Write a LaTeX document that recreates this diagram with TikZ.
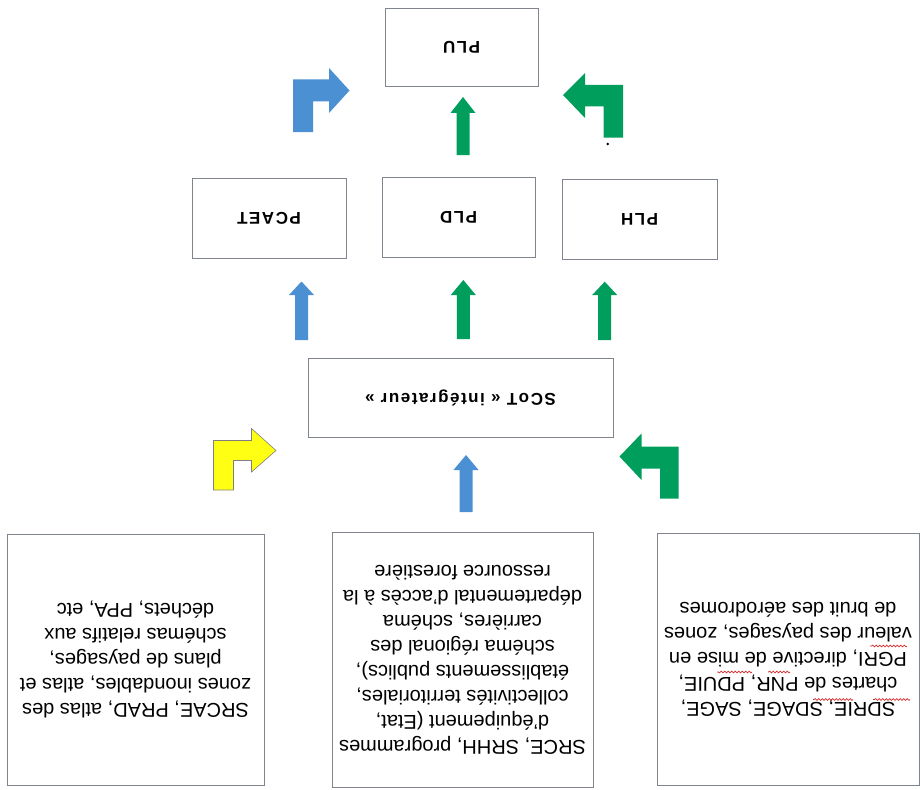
\documentclass[tikz,border=0pt]{standalone}
\usepackage{fontspec}
\setmainfont{Liberation Sans}
\newfontfamily\labelfont{Liberation Sans}[LetterSpace=9]
\usetikzlibrary{decorations.pathmorphing}
\definecolor{frame}{RGB}{128,132,140}
\definecolor{arrblue}{RGB}{74,144,210}
\definecolor{arrgreen}{RGB}{0,158,92}
\definecolor{arryellow}{RGB}{255,255,20}
\definecolor{squigred}{RGB}{215,45,45}
\tikzset{
  box_plan/.style={draw=frame,line width=0.9pt,rotate=180,inner sep=0pt,
    font=\labelfont\bfseries\fontsize{17}{20}\selectfont},
  box_src/.style={draw=frame,line width=0.9pt,rotate=180,inner sep=0pt,align=center,
    font=\fontsize{20}{25}\selectfont},
  arr_blue/.style={fill=arrblue},
  arr_green/.style={fill=arrgreen},
  arr_yellow/.style={fill=arryellow,draw=gray,line width=0.6pt},
  squig/.style={squigred,line width=0.7pt,decorate,
    decoration={snake,amplitude=0.9pt,segment length=3.5pt}},
}
\newcommand{\blockup}[5]{%
  \fill[#1] (#2,#3) -- (#2+12.5,#4) -- (#2+6.5,#4) -- (#2+6.5,#5)
    -- (#2-6.5,#5) -- (#2-6.5,#4) -- (#2-12.5,#4) -- cycle;}

\begin{document}
\begin{tikzpicture}[x=1pt,y=-1pt]
  \useasboundingbox (0,0) rectangle (920,789);

  \node[box_plan,minimum width=153pt,minimum height=78pt] (plu) at (461.5,47) {PLU};
  \node[box_plan,minimum width=154pt,minimum height=80pt] (pcaet) at (269,218) {PCAET};
  \node[box_plan,minimum width=153pt,minimum height=80pt] (pld) at (458.5,217) {PLD};
  \node[box_plan,minimum width=155pt,minimum height=80pt] (plh) at (639.5,219) {PLH};
  \node[box_plan,minimum width=305pt,minimum height=79pt] (scot) at (460.5,397.5) {SCoT « intégrateur »};

  \node[box_src,minimum width=257pt,minimum height=251pt] (src_left) at (135.5,659.5)
    {SRCAE, PRAD, atlas des\\zones inondables, atlas et\\plans de paysages,\\schémas relatifs aux\\déchets, PPA, etc};
  \node[box_src,minimum width=261pt,minimum height=255pt] (src_mid) at (462.5,659.5)
    {SRCE, SRHH, programmes\\d'équipement (Etat,\\collectivités territoriales,\\établissements publics),\\schéma régional des\\carrières, schéma\\départemental d'accès à la\\ressource forestière};
  \node[box_src,minimum width=262pt,minimum height=252pt] (src_right) at (788,659)
    {SDRIE, SDAGE, SAGE,\\chartes de PNR, PDUIE,\\PGRI, directive de mise en\\valeur des paysages, zones\\de bruit des aérodromes};

  % spell-check marks
  \draw[squig] (910,699.5) -- (873,699.5);
  \draw[squig] (853,699.5) -- (813,699.5);
  \draw[squig] (790,672) -- (768,672);
  \draw[squig] (752,672) -- (717,672);
  \draw[squig] (907,646) -- (870,646);

  \fill[arr_blue] (293,132) -- (293,79.5) -- (329,79.5) -- (329,68) -- (349.5,90.5)
    -- (329,113) -- (329,101.5) -- (313,101.5) -- (313,132) -- cycle;
  \blockup{arr_green}{463}{97}{113}{155}
  \fill[arr_green] (563,95) -- (585,73) -- (585,85) -- (623,85) -- (623,137.5)
    -- (603.5,137.5) -- (603.5,106.5) -- (585,106.5) -- (585,118) -- cycle;
  \fill[black] (607.7,144) circle (1.3pt);

  \blockup{arr_blue}{301.5}{281.5}{295}{340}
  \blockup{arr_green}{463.3}{280}{295}{339}
  \blockup{arr_green}{604.7}{281.7}{295}{340}

  \fill[arr_yellow] (213.5,490) -- (213.5,440.5) -- (251.5,440.5) -- (251.5,428.5) -- (276,450.5)
    -- (251.5,472) -- (251.5,460.5) -- (233.5,460.5) -- (233.5,490) -- cycle;
  \blockup{arr_blue}{466}{455}{470}{512}
  \fill[arr_green] (619.5,456.5) -- (641.5,433.5) -- (641.5,446.5) -- (678.5,446.5) -- (678.5,498.5)
    -- (660,498.5) -- (660,468.5) -- (641.5,468.5) -- (641.5,480) -- cycle;
\end{tikzpicture}
\end{document}
